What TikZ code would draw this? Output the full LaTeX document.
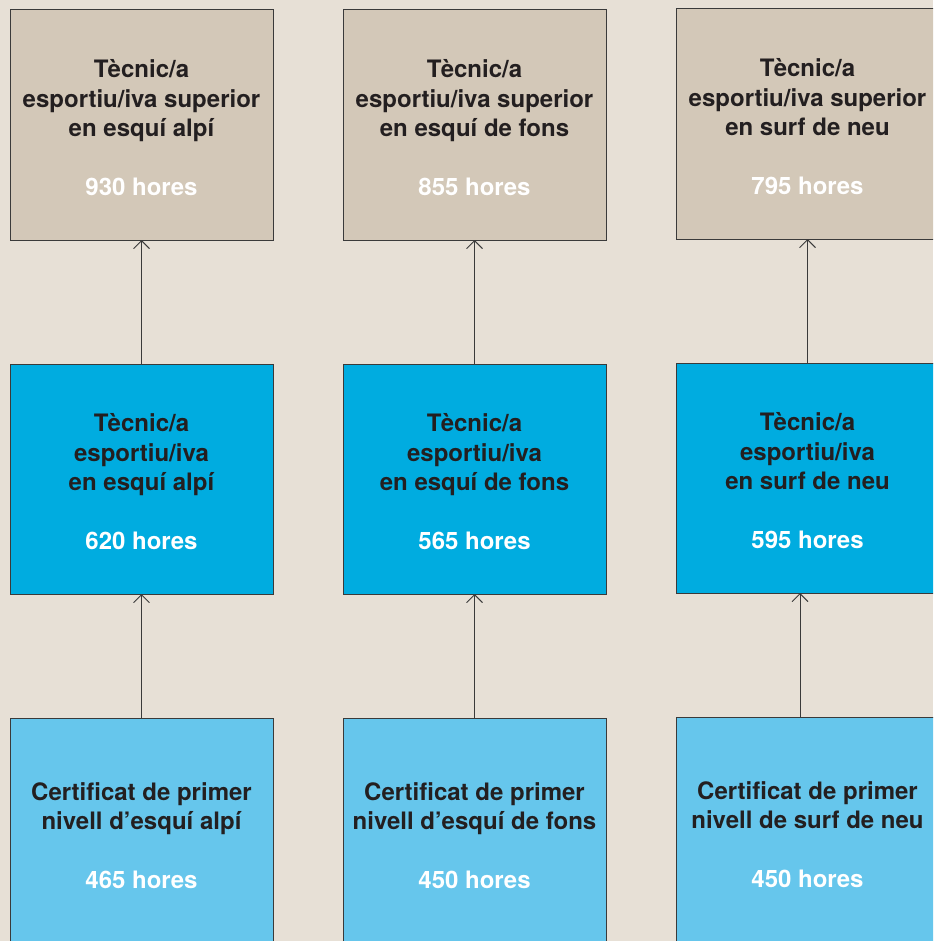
\documentclass[tikz,border=0pt]{standalone}
\usepackage{fontspec}
\setmainfont{TeX Gyre Heros}
\usetikzlibrary{arrows.meta}
\definecolor{bg}{HTML}{E7E0D6}
\definecolor{topc}{HTML}{D3C8B8}
\definecolor{midc}{HTML}{00ACE0}
\definecolor{botc}{HTML}{66C6EC}
\definecolor{boxline}{HTML}{3A3A3A}
\definecolor{txt}{HTML}{231F20}
\begin{document}
\begin{tikzpicture}[x=1pt,y=-1pt,
  box/.style={draw=boxline, line width=1pt, minimum width=263pt, minimum height=230pt,
    inner sep=0pt, outer sep=0pt},
  topbox/.style={box, fill=topc},
  midbox/.style={box, fill=midc},
  botbox/.style={box, fill=botc},
  lbl/.style={inner sep=0pt, align=center,
    font=\fontsize{24}{29.3}\selectfont\bfseries, text=txt},
  arr/.style={draw=boxline, line width=0.9pt, -{Straight Barb[length=8pt,width=16pt,line width=0.9pt]}}]
\fill[bg] (0,0) rectangle (933,941);
\useasboundingbox (0,0) rectangle (933,941);
\clip (0,0) rectangle (933,941);
\newcommand{\hrs}[1]{\\[29.3pt]\textcolor{white}{#1}}
% top row
\node[topbox] (a1) at (141.5,125) {};
\node[topbox] (a2) at (474.5,125) {};
\node[topbox] (a3) at (807.5,124) {};
% middle row
\node[midbox] (b1) at (141.5,479) {};
\node[midbox] (b2) at (474.5,479) {};
\node[midbox] (b3) at (807.5,478) {};
% bottom row
\node[botbox] (c1) at (141.5,833) {};
\node[botbox] (c2) at (474.5,833) {};
\node[botbox] (c3) at (807.5,832) {};
% texts
\node[lbl] (a1t) at ([yshift=-2.5pt]a1.center) {Tècnic/a\\esportiu/iva superior\\en esquí alpí\hrs{930 hores}};
\node[lbl] (a2t) at ([yshift=-2.5pt]a2.center) {Tècnic/a\\esportiu/iva superior\\en esquí de fons\hrs{855 hores}};
\node[lbl] (a3t) at ([yshift=-2.5pt]a3.center) {Tècnic/a\\esportiu/iva superior\\en surf de neu\hrs{795 hores}};
\node[lbl] (b1t) at ([yshift=-2.5pt]b1.center) {Tècnic/a\\esportiu/iva\\en esquí alpí\hrs{620 hores}};
\node[lbl] (b2t) at ([yshift=-2.5pt]b2.center) {Tècnic/a\\esportiu/iva\\en esquí de fons\hrs{565 hores}};
\node[lbl] (b3t) at ([yshift=-2.5pt]b3.center) {Tècnic/a\\esportiu/iva\\en surf de neu\hrs{595 hores}};
\node[lbl] (c1t) at ([yshift=-2.5pt]c1.center) {Certificat de primer\\nivell d’esquí alpí\hrs{465 hores}};
\node[lbl] (c2t) at ([yshift=-2.5pt]c2.center) {Certificat de primer\\nivell d’esquí de fons\hrs{450 hores}};
\node[lbl] (c3t) at ([yshift=-2.5pt]c3.center) {Certificat de primer\\nivell de surf de neu\hrs{450 hores}};
% connectors
\draw[arr] (b1.north) -- (a1.south);
\draw[arr] (b2.north) -- (a2.south);
\draw[arr] (b3.north) -- (a3.south);
\draw[arr] (c1.north) -- (b1.south);
\draw[arr] (c2.north) -- (b2.south);
\draw[arr] ([xshift=-7.5pt]c3.north) -- ([xshift=-7.5pt]b3.south);
\end{tikzpicture}
\end{document}
